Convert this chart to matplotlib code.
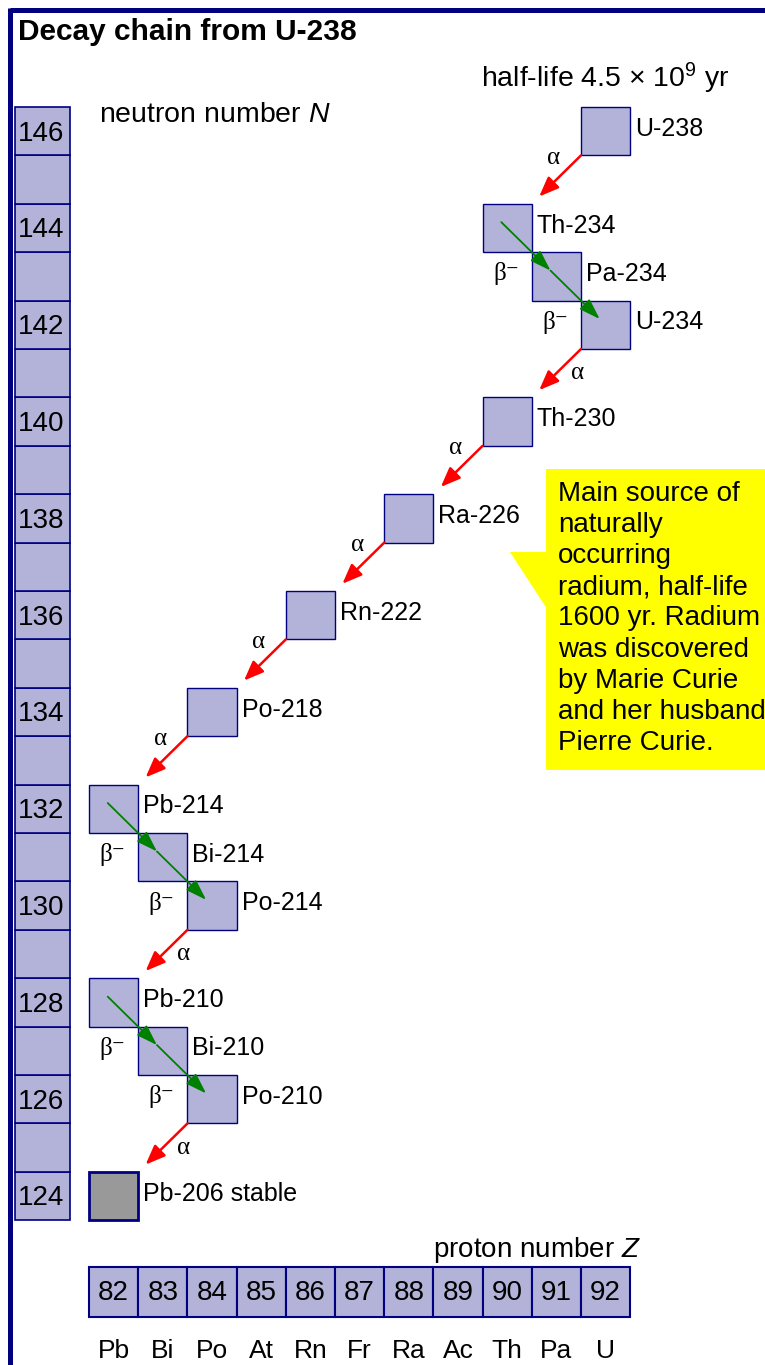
import matplotlib
matplotlib.use("Agg")
import matplotlib.pyplot as plt
from matplotlib.patches import Rectangle, Polygon
from matplotlib.lines import Line2D

plt.rcParams["font.family"] = ["Liberation Sans", "DejaVu Sans"]
plt.rcParams["mathtext.fontset"] = "custom"
plt.rcParams["mathtext.rm"] = "Liberation Sans"
plt.rcParams["mathtext.it"] = "Liberation Sans:italic"

# ---- data -----------------------------------------------------------------
nuclides = ["U-238", "Th-234", "Pa-234", "U-234", "Th-230", "Ra-226", "Rn-222",
            "Po-218", "Pb-214", "Bi-214", "Po-214", "Pb-210", "Bi-210", "Po-210",
            "Pb-206 stable"]
Z = [92, 90, 91, 92, 90, 88, 86, 84, 82, 83, 84, 82, 83, 84, 82]
N = [146, 144, 143, 142, 140, 138, 136, 134, 132, 131, 130, 128, 127, 126, 124]
mode = ["a", "b", "b", "a", "a", "a", "a", "a", "b", "b", "a", "b", "b", "a", None]
alpha_side = ["L", None, None, "R", "L", "L", "L", "L", None, None, "R", None, None, "R", None]

z_numbers = list(range(82, 93))
elements = ["Pb", "Bi", "Po", "At", "Rn", "Fr", "Ra", "Ac", "Th", "Pa", "U"]
n_rows = list(range(124, 147))

note = ("Main source of\nnaturally\noccurring\nradium, half-life\n"
        "1600 yr. Radium\nwas discovered\nby Marie Curie\nand her husband\nPierre Curie.")

FILL = "#b3b3d9"
EDGE = "#000080"

fig = plt.figure(figsize=(7.65, 13.65), dpi=100)
ax = fig.add_axes([0, 0, 1, 1])
ax.set_xlim(79.69, 95.24)
ax.set_ylim(120.51, 148.71)
ax.axis("off")

# frame (top and left only)
fig.add_artist(Line2D([0.0131, 1.0], [0.9927, 0.9927], color=EDGE, lw=3.6,
                      transform=fig.transFigure, solid_capstyle="butt"))
fig.add_artist(Line2D([0.0131, 0.0131], [0.0, 0.9945], color=EDGE, lw=3.6,
                      transform=fig.transFigure, solid_capstyle="butt"))

ax.text(80.06, 148.05, "Decay chain from U-238", fontsize=21.5, fontweight="bold",
        ha="left", va="center")
ax.text(89.47, 147.1, r"half-life 4.5 $\times$ 10$^{9}$ yr", fontsize=20.5,
        ha="left", va="center")
ax.text(81.70, 146.33, r"neutron number $N$", fontsize=20.5, ha="left", va="center")
ax.text(92.72, 122.88, r"proton number $Z$", fontsize=20, ha="right", va="center")

# neutron number column
for n in n_rows:
    ax.add_patch(Rectangle((80.0, n - 0.5), 1.12, 1.0, facecolor=FILL,
                           edgecolor=EDGE, lw=1.2))
    if n % 2 == 0:
        ax.text(80.52, n - 0.05, str(n), fontsize=20, ha="center", va="center")

# proton number row
for z, el in zip(z_numbers, elements):
    ax.add_patch(Rectangle((z - 0.5, 121.5), 1.0, 1.03, facecolor=FILL,
                           edgecolor=EDGE, lw=1.5))
    ax.text(z, 122.0, str(z), fontsize=20, ha="center", va="center")
    ax.text(z, 120.8, el, fontsize=19, ha="center", va="center")

# nuclide squares and labels
for i, (name, z, n) in enumerate(zip(nuclides, Z, N)):
    stable = mode[i] is None
    ax.add_patch(Rectangle((z - 0.5, n - 0.5), 1.0, 1.0,
                           facecolor="#999999" if stable else FILL,
                           edgecolor=EDGE, lw=2.0 if stable else 1.0, zorder=2))
    ax.text(z + 0.6, n + 0.05, name, fontsize=18, ha="left", va="center")

# decay arrows
for i in range(len(nuclides) - 1):
    z, n = Z[i], N[i]
    zd, nd = Z[i + 1], N[i + 1]
    if mode[i] == "a":
        start = (z - 0.5, n - 0.5)
        end = (zd + 0.65, nd + 0.65)
        ax.annotate("", xy=end, xytext=start, zorder=4,
                    arrowprops=dict(arrowstyle="-|>,head_length=0.7,head_width=0.28",
                                    color="#ff0000", lw=1.8, mutation_scale=17,
                                    shrinkA=0, shrinkB=0))
        if alpha_side[i] == "L":
            pos = (z - 0.5 - 0.55, n - 0.5 - 0.05)
        else:
            pos = (z - 0.5 - 0.08, n - 0.5 - 0.5)
        ax.text(*pos, "α", fontsize=18, ha="center", va="center",
                family=["Liberation Serif", "DejaVu Serif"])
    else:
        start = (z - 0.12, n + 0.12)
        end = (zd - 0.12, nd + 0.12)
        ax.annotate("", xy=end, xytext=start, zorder=4,
                    arrowprops=dict(arrowstyle="-|>,head_length=0.75,head_width=0.25",
                                    color="#008000", lw=1.3, mutation_scale=17,
                                    shrinkA=0, shrinkB=0))
        ax.text(zd - 0.5 - 0.26, nd + 0.05, "β⁻", fontsize=18, ha="right",
                va="center", family=["Liberation Serif", "DejaVu Sans"])

# callout
ax.add_patch(Rectangle((90.79, 132.8), 5.0, 6.22, facecolor="#ffff00",
                       edgecolor="none", zorder=1))
ax.add_patch(Polygon([(90.06, 137.31), (90.85, 137.31), (90.85, 136.07)],
                     closed=True, facecolor="#ffff00", edgecolor="none", zorder=1))
ax.text(91.03, 138.78, note, fontsize=20, ha="left", va="top", linespacing=1.26,
        zorder=3)

fig.savefig("out.png", dpi=100)
